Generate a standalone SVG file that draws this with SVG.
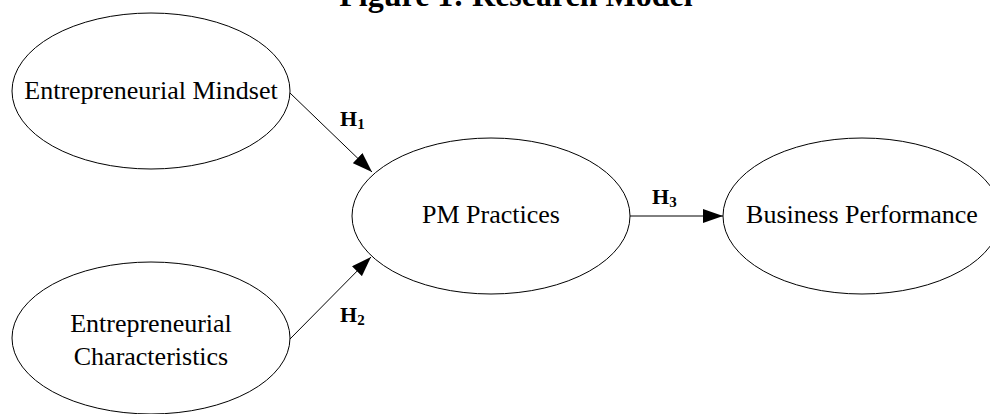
<svg xmlns="http://www.w3.org/2000/svg" width="990" height="414" viewBox="0 0 990 414">
<style>
.node ellipse{fill:#fff;stroke:#000;stroke-width:1}
.lbl{font-family:"Liberation Serif","Times New Roman",serif;font-size:26px;fill:#000;text-anchor:middle}
.h{font-family:"Liberation Serif","Times New Roman",serif;font-size:22px;font-weight:bold;fill:#000}
.h tspan.s{font-size:15px}
.title{font-family:"Liberation Serif","Times New Roman",serif;font-size:32px;font-weight:bold;fill:#000;text-anchor:middle}
.conn line{stroke:#000;stroke-width:1}
</style>
<defs>
<marker id="arr" markerWidth="20" markerHeight="14" refX="20" refY="7" orient="auto" markerUnits="userSpaceOnUse">
<path d="M0,0 L20,7 L0,14 Z" fill="#000"/>
</marker>
</defs>
<rect width="990" height="414" fill="#fff"/>
<text class="title" x="516" y="6">Figure 1: Research Model</text>
<g id="n-mindset" class="node">
<ellipse cx="151" cy="91" rx="139" ry="78"/>
<text class="lbl" x="151" y="99">Entrepreneurial Mindset</text>
</g>
<g id="n-characteristics" class="node">
<ellipse cx="151" cy="338" rx="139" ry="76"/>
<text class="lbl" x="151" y="332">Entrepreneurial</text>
<text class="lbl" x="151" y="365">Characteristics</text>
</g>
<g id="n-pm" class="node">
<ellipse cx="491" cy="216" rx="139" ry="78"/>
<text class="lbl" x="491" y="223">PM Practices</text>
</g>
<g id="n-bp" class="node">
<ellipse cx="862" cy="216" rx="139" ry="78"/>
<text class="lbl" x="862" y="223">Business Performance</text>
</g>
<g id="connectors" class="conn">
<line x1="290" y1="93" x2="372" y2="172" marker-end="url(#arr)"/>
<line x1="290" y1="339" x2="371" y2="257" marker-end="url(#arr)"/>
<line x1="630" y1="216" x2="723" y2="216" marker-end="url(#arr)"/>
</g>
<text class="h" x="340" y="126">H<tspan class="s" dy="3">1</tspan></text>
<text class="h" x="340" y="322">H<tspan class="s" dy="3">2</tspan></text>
<text class="h" x="652" y="204">H<tspan class="s" dy="3">3</tspan></text>
</svg>
